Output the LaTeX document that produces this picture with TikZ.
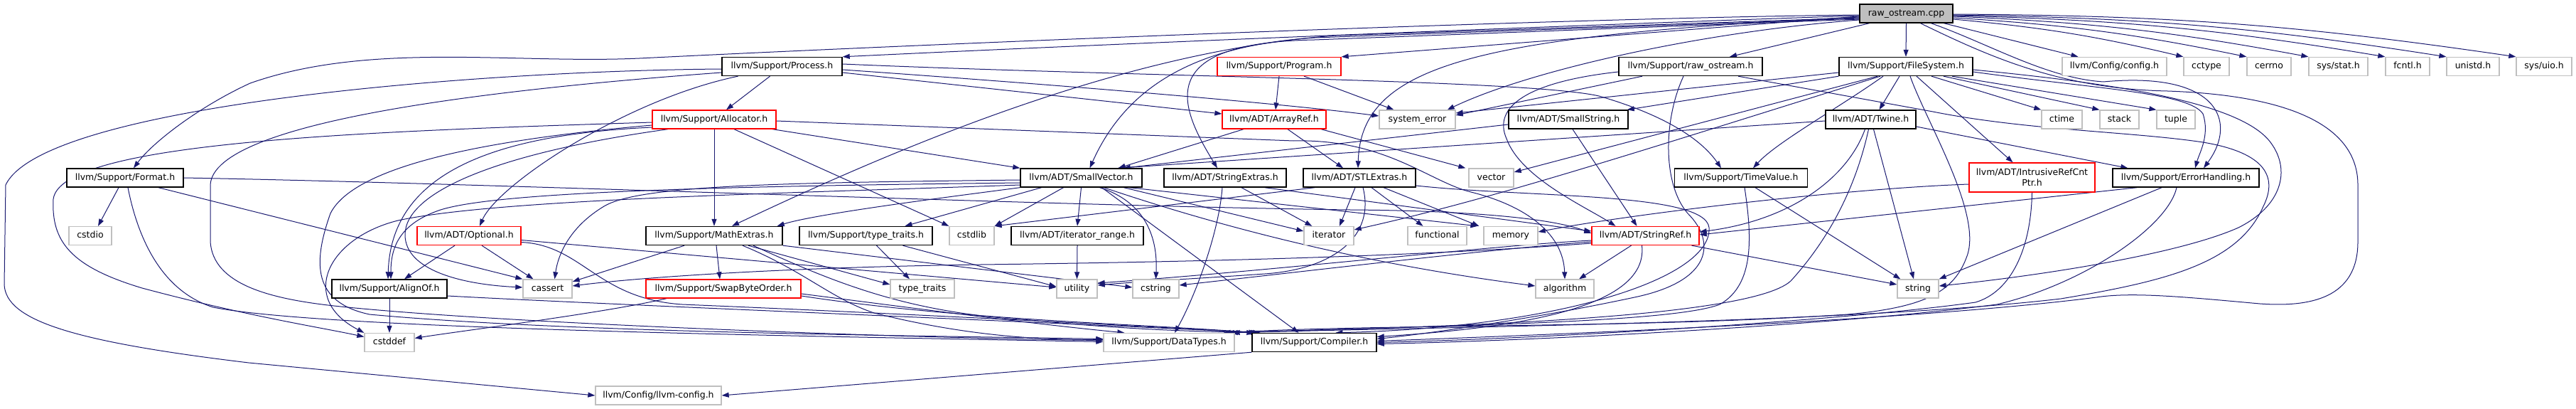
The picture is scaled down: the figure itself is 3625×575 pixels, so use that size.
\documentclass[tikz,border=0pt]{standalone}
\usepackage{fontspec}
\setmainfont{DejaVu Sans}
\usetikzlibrary{arrows.meta,backgrounds}
\definecolor{edgec}{RGB}{25,25,112}
\definecolor{gbd}{RGB}{191,191,191}
\definecolor{cppfill}{RGB}{191,191,191}
\newcommand{\nodefnt}{\fontsize{12.5}{15}\selectfont}
\begin{document}
\begin{tikzpicture}[x=1pt,y=-1pt,
  nbase/.style={rectangle, inner sep=0pt, minimum height=26pt, font=\nodefnt, fill=white},
  nb/.style={nbase, text height=9.3pt, text depth=2.6pt},
  bbox/.style={nb, draw=black, line width=1.4pt},
  rbox/.style={nb, draw=red, line width=1.3pt},
  gbox/.style={nb, draw=gbd, line width=1.3pt},
  edg/.style={draw=edgec, line width=1pt, -{Triangle[length=10pt,width=7pt]}},
]
\useasboundingbox (0,0) rectangle (3625,575);

% row 1
\node[bbox, fill=cppfill, minimum width=131pt] (cpp) at (2682.5,19) {raw\_ostream.cpp};
% row 2
\node[bbox, minimum width=169pt] (Process) at (1100.5,93.5) {llvm/Support/Process.h};
\node[rbox, minimum width=174pt] (Program) at (1800,93.5) {llvm/Support/Program.h};
\node[bbox, minimum width=202pt] (rawh) at (2379,93.5) {llvm/Support/raw\_ostream.h};
\node[bbox, minimum width=188pt] (FileSystem) at (2682,93.5) {llvm/Support/FileSystem.h};
\node[gbox, minimum width=147pt] (config) at (2975.5,93.5) {llvm/Config/config.h};
\node[gbox, minimum width=64pt] (cctype) at (3105,93.5) {cctype};
\node[gbox, minimum width=62pt] (cerrno) at (3193,93.5) {cerrno};
\node[gbox, minimum width=83pt] (sysstat) at (3290.5,93.5) {sys/stat.h};
\node[gbox, minimum width=62pt] (fcntl) at (3388,93.5) {fcntl.h};
\node[gbox, minimum width=74pt] (unistd) at (3480,93.5) {unistd.h};
\node[gbox, minimum width=78pt] (sysuio) at (3580,93.5) {sys/uio.h};
% row 3
\node[rbox, minimum width=174pt] (Allocator) at (1005,168) {llvm/Support/Allocator.h};
\node[rbox, minimum width=146pt] (ArrayRef) at (1793,168) {llvm/ADT/ArrayRef.h};
\node[gbox, minimum width=107pt] (syserr) at (1994.5,168) {system\_error};
\node[bbox, minimum width=168pt] (SmallString) at (2207,168) {llvm/ADT/SmallString.h};
\node[bbox, minimum width=127pt] (Twine) at (2632.5,168) {llvm/ADT/Twine.h};
\node[gbox, minimum width=57pt] (ctime) at (2901.5,168) {ctime};
\node[gbox, minimum width=55pt] (stack) at (2982.5,168) {stack};
\node[gbox, minimum width=54pt] (tuple) at (3062,168) {tuple};
% row 4
\node[bbox, minimum width=164pt] (Format) at (176,250) {llvm/Support/Format.h};
\node[bbox, minimum width=171pt] (SmallVector) at (1521.5,250) {llvm/ADT/SmallVector.h};
\node[bbox, minimum width=172pt] (StringExtras) at (1724,250) {llvm/ADT/StringExtras.h};
\node[bbox, minimum width=158pt] (STLExtras) at (1913,250) {llvm/ADT/STLExtras.h};
\node[gbox, minimum width=63pt] (vector) at (2098.5,250) {vector};
\node[bbox, minimum width=187pt] (TimeValue) at (2450,250) {llvm/Support/TimeValue.h};
\node[nbase, draw=red, line width=1.3pt, minimum width=177pt, minimum height=41pt, align=center] (IRCP) at (2859.5,249.5) {llvm/ADT/IntrusiveRefCnt\\Ptr.h};
\node[bbox, minimum width=206pt] (ErrorHandling) at (3076,250) {llvm/Support/ErrorHandling.h};
% row 5
\node[gbox, minimum width=60pt] (cstdio) at (127,331.5) {cstdio};
\node[rbox, minimum width=146pt] (Optional) at (660,331.5) {llvm/ADT/Optional.h};
\node[bbox, minimum width=192pt] (MathExtras) at (1005,331.5) {llvm/Support/MathExtras.h};
\node[bbox, minimum width=187pt] (typetraitsh) at (1218.5,331.5) {llvm/Support/type\_traits.h};
\node[gbox, minimum width=63pt] (cstdlib) at (1367.5,331.5) {cstdlib};
\node[bbox, minimum width=186pt] (iterrange) at (1516,331.5) {llvm/ADT/iterator\_range.h};
\node[gbox, minimum width=70pt] (iterator) at (1870,331.5) {iterator};
\node[gbox, minimum width=83pt] (functional) at (2022.5,331.5) {functional};
\node[gbox, minimum width=76pt] (memory) at (2126,331.5) {memory};
\node[rbox, minimum width=151pt] (StringRef) at (2315.5,331.5) {llvm/ADT/StringRef.h};
% row 6
\node[bbox, minimum width=162pt] (AlignOf) at (548,406) {llvm/Support/AlignOf.h};
\node[gbox, minimum width=69pt] (cassert) at (770.5,406) {cassert};
\node[rbox, minimum width=218pt] (SwapByteOrder) at (1018,406) {llvm/Support/SwapByteOrder.h};
\node[gbox, minimum width=90pt] (typetraits) at (1298,406) {type\_traits};
\node[gbox, minimum width=57pt] (utility) at (1515.5,406) {utility};
\node[gbox, minimum width=65pt] (cstring) at (1626.5,406) {cstring};
\node[gbox, minimum width=82pt] (algorithm) at (2202,406) {algorithm};
\node[gbox, minimum width=58pt] (string) at (2699,406) {string};
% row 7
\node[gbox, minimum width=70pt] (cstddef) at (548,481.5) {cstddef};
\node[gbox, minimum width=184pt] (DataTypes) at (1645,481.5) {llvm/Support/DataTypes.h};
\node[bbox, minimum width=175pt] (Compiler) at (1849.5,481.5) {llvm/Support/Compiler.h};
% row 8
\node[gbox, minimum width=177pt] (llvmconfig) at (926.5,556) {llvm/Config/llvm-config.h};

\begin{scope}[on background layer]
% raw_ostream.cpp
\draw[edg] ([yshift=-3]cpp.west) .. controls (2200,36) and (1600,60) .. (Process.north east);
\draw[edg] ([yshift=-2]cpp.west) .. controls (2200,25) and (1300,62) .. (900,82) .. controls (720,90) and (520,58) .. (352,117) .. controls (280,150) and (215,200) .. ([xshift=12]Format.north);
\draw[edg] ([yshift=-4]cpp.west) -- (Program.north east);
\draw[edg] ([xshift=-52]cpp.south) -- ([xshift=55]rawh.north);
\draw[edg] (cpp.south) -- (FileSystem.north);
\draw[edg] ([xshift=53]cpp.south) -- ([xshift=-51]config.north);
\draw[edg] ([yshift=-8]cpp.east) to[bend left=4] (cctype.north west);
\draw[edg] ([yshift=-6]cpp.east) to[bend left=4] (cerrno.north west);
\draw[edg] ([yshift=-4]cpp.east) to[bend left=4] (sysstat.north west);
\draw[edg] ([yshift=-3]cpp.east) to[bend left=4] (fcntl.north west);
\draw[edg] ([yshift=-2]cpp.east) to[bend left=4] (unistd.north west);
\draw[edg] ([yshift=-1]cpp.east) to[bend left=4] (sysuio.north west);
\draw[edg] ([yshift=-6]cpp.west) -- (1880,50) .. controls (1600,70) and (1300,190) .. ([xshift=25]MathExtras.north);
\draw[edg] ([yshift=-7]cpp.west) -- (1850,53) .. controls (1700,63) and (1590,110) .. ([xshift=12]SmallVector.north);
\draw[edg] ([yshift=-8]cpp.west) -- (1850,56) .. controls (1620,60) and (1660,150) .. ([xshift=-11]StringExtras.north);
\draw[edg] ([yshift=-5]cpp.west) .. controls (2080,50) and (1915,90) .. ([xshift=-2]STLExtras.north);
\draw[edg] ([yshift=-9]cpp.west) .. controls (2390,45) and (2150,100) .. ([xshift=-12]syserr.north east);
\draw[edg] ([xshift=35]cpp.south) .. controls (2800,62) and (2880,110) .. (2960,115) .. controls (3120,100) and (3150,170) .. ([xshift=25]ErrorHandling.north);
\draw[edg] ([xshift=20]cpp.south) .. controls (2800,80) and (2900,125) .. (3050,128) .. controls (3250,135) and (3318,190) .. (3318,260) -- (3318,340) .. controls (3318,420) and (3250,432) .. (3180,427) .. controls (3080,418) and (3000,410) .. (2950,418) .. controls (2700,450) and (2200,470) .. ([yshift=2]Compiler.east);
% Process
\draw[edg] ([xshift=-17]Process.south) -- ([xshift=17]Allocator.north);
\draw[edg] ([xshift=-62]Process.south) .. controls (880,140) and (700,260) .. ([xshift=15]Optional.north);
\draw[edg] ([yshift=3.5]Process.east) .. controls (1600,108) and (2150,112) .. (2250,135) .. controls (2330,158) and (2390,190) .. ([xshift=-28]TimeValue.north);
\draw[edg] ([yshift=-4.5]Process.east) .. controls (1500,120) and (1800,145) .. ([yshift=5]syserr.west);
\draw[edg] ([yshift=-8.5]Process.east) -- ([yshift=8]ArrayRef.west);
\draw[edg] ([yshift=-3.5]Process.west) .. controls (650,100) and (60,150) .. (8,260) -- (6,400) .. controls (8,450) and (100,480) .. (350,510) -- (llvmconfig.west);
\draw[edg] ([yshift=-8.5]Process.west) .. controls (700,125) and (300,170) .. (296,260) -- (296,340) .. controls (300,400) and (380,420) .. (470,430) .. controls (700,455) and (1300,476) .. ([yshift=3]DataTypes.west);
% Program
\draw[edg] (Program.south) -- ([xshift=2]ArrayRef.north);
\draw[edg] ([xshift=35]Program.south) -- ([xshift=-33]syserr.north);
% raw_ostream.h
\draw[edg] ([xshift=-68]rawh.south) -- ([yshift=6]syserr.east);
\draw[edg] ([yshift=-7.5]rawh.west) .. controls (2150,115) and (2100,150) .. (2120,195) .. controls (2140,250) and (2230,290) .. ([xshift=-42]StringRef.north);
\draw[edg] ([xshift=-10]rawh.south) .. controls (2340,170) and (2340,260) .. (2375,300) .. controls (2415,340) and (2410,395) .. (2300,418) .. controls (2150,450) and (2000,470) .. ([yshift=5]Compiler.east);
\draw[edg] ([xshift=67]rawh.south) -- (2720,157) .. controls (2850,183) and (3000,185) .. (3100,200) .. controls (3190,215) and (3205,250) .. (3185,290) .. controls (3150,370) and (3050,395) .. (2900,420) .. controls (2600,455) and (2000,460) .. ([xshift=-6]DataTypes.north east);
% FileSystem
\draw[edg] ([yshift=-8.5]FileSystem.west) -- ([yshift=9]syserr.east);
\draw[edg] (FileSystem.south west) -- ([xshift=-2]SmallString.north east);
\draw[edg] ([xshift=-9]FileSystem.south) -- ([xshift=12]Twine.north);
\draw[edg] ([xshift=-32]FileSystem.south) .. controls (2590,150) and (2500,200) .. ([xshift=17]TimeValue.north);
\draw[edg] ([xshift=15]FileSystem.south) -- ([xshift=-27]IRCP.north);
\draw[edg] ([xshift=-40]FileSystem.south) -- ([yshift=8]vector.east);
\draw[edg] ([xshift=-36]FileSystem.south) .. controls (2300,215) and (2100,280) .. ([yshift=8.5]iterator.east);
\draw[edg] ([xshift=36]FileSystem.south) -- (ctime.north west);
\draw[edg] ([xshift=53]FileSystem.south) -- (stack.north west);
\draw[edg] ([xshift=65]FileSystem.south) -- (tuple.north west);
\draw[edg] ([yshift=-7.5]FileSystem.east) .. controls (2950,125) and (3080,130) .. (3100,160) .. controls (3110,190) and (3095,215) .. ([xshift=13]ErrorHandling.north);
\draw[edg] ([yshift=-4.5]FileSystem.east) .. controls (2950,115) and (3150,140) .. (3195,200) .. controls (3225,240) and (3210,290) .. (3150,320) .. controls (3060,360) and (2850,390) .. ([yshift=4]string.east);
\draw[edg] ([xshift=6]FileSystem.south) .. controls (2710,170) and (2790,300) .. (2768,360) .. controls (2750,410) and (2710,432) .. (2600,442) .. controls (2300,462) and (1950,455) .. ([xshift=-16]DataTypes.north east);
% SmallString
\draw[edg] ([yshift=-7]SmallString.west) -- ([xshift=-27]SmallVector.north east);
\draw[edg] ([xshift=6]SmallString.south) -- ([xshift=-12]StringRef.north);
% Twine
\draw[edg] ([yshift=-2]Twine.west) -- ([xshift=-35]SmallVector.north east);
\draw[edg] ([xshift=-8]Twine.south) .. controls (2600,250) and (2520,310) .. ([yshift=5.5]StringRef.east);
\draw[edg] ([xshift=-3]Twine.south) .. controls (2610,270) and (2570,340) .. (2520,395) .. controls (2460,450) and (2000,460) .. ([xshift=-11]DataTypes.north east);
\draw[edg] ([xshift=4]Twine.south) -- ([xshift=-6]string.north);
\draw[edg] ([yshift=-10]Twine.east) -- ([xshift=22]ErrorHandling.north west);
% TimeValue
\draw[edg] ([xshift=5]TimeValue.south) .. controls (2465,330) and (2470,400) .. (2420,428) .. controls (2350,455) and (2000,458) .. ([xshift=-3]DataTypes.north east);
\draw[edg] ([xshift=20]TimeValue.south) -- ([xshift=5]string.north west);
% IntrusiveRefCntPtr
\draw[edg] ([yshift=-9.5]IRCP.west) .. controls (2600,265) and (2300,300) .. ([yshift=5.5]memory.east);
\draw[edg] (IRCP.south) .. controls (2858,350) and (2830,410) .. (2780,425) .. controls (2600,450) and (2200,475) .. (Compiler.east);
% ErrorHandling
\draw[edg] ([xshift=-69]ErrorHandling.south) -- ([yshift=1.5]StringRef.east);
\draw[edg] ([xshift=-34]ErrorHandling.south) -- (string.north east);
\draw[edg] ([xshift=-13]ErrorHandling.south) .. controls (3050,320) and (2930,400) .. (2810,428) .. controls (2600,455) and (2200,478) .. ([yshift=-2]Compiler.east);
% StringRef
\draw[edg] ([xshift=-20]StringRef.south) -- ([xshift=20]algorithm.north);
\draw[edg] ([xshift=65]StringRef.south) -- ([yshift=6]string.west);
\draw[edg] ([yshift=-6.5]StringRef.west) .. controls (2100,345) and (1800,380) .. ([yshift=8]utility.east);
\draw[edg] ([yshift=-8.5]StringRef.west) .. controls (2100,350) and (1850,380) .. ([yshift=5]cstring.east);
\draw[edg] ([yshift=-10.5]StringRef.west) .. controls (2000,360) and (1700,368) .. (1380,372) .. controls (1100,376) and (900,390) .. ([yshift=4]cassert.east);
\draw[edg] ([xshift=-5]StringRef.south) .. controls (2320,430) and (2150,460) .. ([yshift=8]Compiler.east);
% StringExtras
\draw[edg] ([xshift=56]StringExtras.south) -- ([yshift=6.5]StringRef.west);
\draw[edg] ([xshift=-4]StringExtras.south) .. controls (1715,330) and (1680,420) .. ([xshift=8]DataTypes.north);
\draw[edg] ([xshift=23]StringExtras.south) -- ([xshift=12]iterator.north west);
% ArrayRef
\draw[edg] ([xshift=-43]ArrayRef.south) -- ([xshift=-34]SmallVector.north east);
\draw[edg] ([xshift=19]ArrayRef.south) -- ([xshift=-23]STLExtras.north);
\draw[edg] ([xshift=66]ArrayRef.south) -- ([xshift=-4]vector.north west);
% Allocator
\draw[edg] (Allocator.south) -- (MathExtras.north);
\draw[edg] ([xshift=28]Allocator.south) -- (cstdlib.north west);
\draw[edg] ([xshift=82]Allocator.south) -- (SmallVector.north west);
\draw[edg] ([yshift=-2]Allocator.east) -- (1820,198) .. controls (1950,195) and (2010,255) .. (2070,270) .. controls (2150,290) and (2200,330) .. (algorithm.north);
\draw[edg] ([yshift=-4]Allocator.west) .. controls (500,185) and (85,200) .. (75,280) .. controls (72,340) and (100,375) .. (200,405) .. controls (350,445) and (450,460) .. ([yshift=8]cstddef.west);
\draw[edg] ([yshift=-8]Allocator.west) .. controls (700,195) and (500,230) .. (465,300) .. controls (440,370) and (440,425) .. (520,442) .. controls (800,468) and (1300,472) .. ([yshift=5]DataTypes.west);
\draw[edg] ([yshift=-11]Allocator.west) .. controls (680,190) and (550,250) .. ([xshift=-2]AlignOf.north);
\draw[edg] ([xshift=-65]Allocator.south) .. controls (700,215) and (570,270) .. (570,330) .. controls (570,380) and (650,400) .. ([yshift=2]cassert.west);
% Format
\draw[edg] ([xshift=-9]Format.south) -- ([xshift=11]cstdio.north);
\draw[edg] ([xshift=4]Format.south) .. controls (195,340) and (230,410) .. (300,432) .. controls (450,462) and (1100,472) .. ([yshift=1]DataTypes.west);
\draw[edg] ([xshift=47]Format.south) -- (cassert.north west);
\draw[edg] (Format.east) .. controls (700,258) and (1500,290) .. (1900,295) .. controls (2050,296) and (2180,305) .. ([yshift=3.5]StringRef.west);
% SmallVector
\draw[edg] (SmallVector.south) -- (iterrange.north);
\draw[edg] ([xshift=-25]SmallVector.south) -- (cstdlib.north east);
\draw[edg] ([xshift=-56]SmallVector.south) -- ([xshift=55]typetraitsh.north);
\draw[edg] (SmallVector.south west) .. controls (1350,275) and (1150,300) .. ([xshift=-8]MathExtras.north east);
\draw[edg] ([xshift=26]SmallVector.south) .. controls (1600,280) and (1630,320) .. (cstring.north);
\draw[edg] ([xshift=29]SmallVector.south) -- ([xshift=-22]Compiler.north);
\draw[edg] ([xshift=60]SmallVector.south) -- ([yshift=6.5]iterator.west);
\draw[edg] ([xshift=32]SmallVector.south) .. controls (1750,330) and (1950,375) .. ([yshift=4]algorithm.west);
\draw[edg] ([xshift=68]SmallVector.south) -- ([xshift=-8]memory.north west);
\draw[edg] ([yshift=-3]SmallVector.west) .. controls (1100,257) and (900,260) .. (850,290) .. controls (800,320) and (785,360) .. ([xshift=10]cassert.north);
\draw[edg] ([yshift=-7]SmallVector.west) .. controls (1000,262) and (700,270) .. (620,295) .. controls (560,315) and (550,350) .. ([xshift=2]AlignOf.north);
\draw[edg] ([yshift=-10]SmallVector.west) .. controls (1100,272) and (700,280) .. (560,310) .. controls (460,335) and (420,420) .. (cstddef.north west);
% STLExtras
\draw[edg] ([xshift=-6]STLExtras.south) -- ([xshift=15]iterator.north);
\draw[edg] ([xshift=-63]STLExtras.south) -- (cstdlib.north east);
\draw[edg] ([xshift=17]STLExtras.south) -- ([xshift=-20]functional.north);
\draw[edg] ([xshift=34]STLExtras.south) -- ([xshift=-6]memory.north west);
\draw[edg] ([xshift=5]STLExtras.south) .. controls (1935,330) and (1880,378) .. (1780,385) .. controls (1680,392) and (1600,396) .. ([yshift=5]utility.east);
\draw[edg] ([yshift=-11]STLExtras.east) .. controls (2150,278) and (2400,270) .. (2405,320) .. controls (2410,390) and (2200,460) .. ([xshift=30]Compiler.north);
% MathExtras
\draw[edg] ([xshift=3]MathExtras.south) -- ([xshift=-5]SwapByteOrder.north);
\draw[edg] ([xshift=48]MathExtras.south) -- ([yshift=6]typetraits.west);
\draw[edg] (MathExtras.south east) -- ([yshift=2]cstring.west);
\draw[edg] ([xshift=-42]MathExtras.south) -- ([yshift=10]cassert.east);
\draw[edg] ([xshift=40]MathExtras.south) .. controls (1130,380) and (1170,420) .. (1230,440) .. controls (1350,470) and (1450,478) .. ([yshift=4]DataTypes.west);
\draw[edg] ([xshift=55]MathExtras.south) .. controls (1180,400) and (1280,440) .. (1450,450) .. controls (1600,465) and (1700,466) .. ([xshift=3]Compiler.north west);
% SwapByteOrder
\draw[edg] ([xshift=-80]SwapByteOrder.south) .. controls (850,440) and (650,465) .. ([yshift=6]cstddef.east);
\draw[edg] ([yshift=-7]SwapByteOrder.east) .. controls (1300,435) and (1450,455) .. ([xshift=30]DataTypes.north west);
\draw[edg] ([yshift=-10]SwapByteOrder.east) .. controls (1350,450) and (1600,455) .. ([xshift=6]Compiler.north west);
% type_traits.h
\draw[edg] ([xshift=15]typetraitsh.south) -- ([xshift=-18]typetraits.north);
\draw[edg] ([xshift=52]typetraitsh.south) -- ([yshift=3]utility.west);
% iterator_range
\draw[edg] (iterrange.south) -- (utility.north);
% Optional
\draw[edg] ([xshift=-20]Optional.south) -- ([xshift=21]AlignOf.north);
\draw[edg] ([xshift=18]Optional.south) -- ([xshift=-20]cassert.north);
\draw[edg] ([yshift=-6]Optional.east) -- ([yshift=2]utility.west);
\draw[edg] ([yshift=-9]Optional.east) .. controls (820,345) and (840,420) .. (960,428) .. controls (1250,440) and (1600,458) .. ([xshift=9]Compiler.north west);
% AlignOf
\draw[edg] (AlignOf.south) -- (cstddef.north);
\draw[edg] ([yshift=-10]AlignOf.east) .. controls (850,428) and (1450,452) .. ([xshift=12]Compiler.north west);
% Compiler
\draw[edg] (Compiler.south west) -- (llvmconfig.east);
\end{scope}
\end{tikzpicture}
\end{document}
